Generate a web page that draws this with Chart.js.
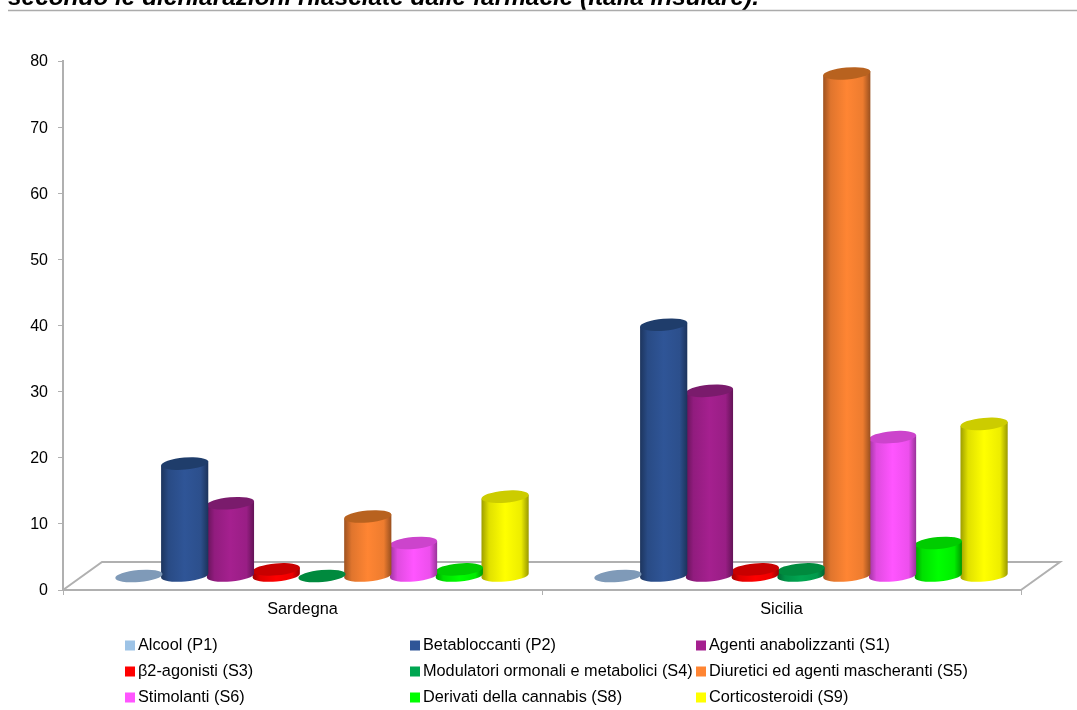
<!DOCTYPE html>
<html lang="it">
<head>
<meta charset="utf-8">
<title>Classi di sostanze per regione</title>
<style>
  html, body { margin: 0; padding: 0; background: #fff; overflow: hidden; }
  canvas { display: block; }
</style>
<script src="https://cdn.jsdelivr.net/npm/chart.js@4"></script>
</head>
<body>
<canvas id="chart" width="1077" height="710"></canvas>
<script>
const headline = "secondo le dichiarazioni rilasciate dalle farmacie (Italia insulare).";
const categories = ["Sardegna", "Sicilia"];
const seriesNames = [
  "Alcool (P1)", "Betabloccanti (P2)", "Agenti anabolizzanti (S1)",
  "β2-agonisti (S3)", "Modulatori ormonali e metabolici (S4)", "Diuretici ed agenti mascheranti (S5)",
  "Stimolanti (S6)", "Derivati della cannabis (S8)", "Corticosteroidi (S9)"
];
const alcool = [0, 0];
const betabloccanti = [17, 38];
const anabolizzanti = [11, 28];
const beta2agonisti = [1, 1];
const modulatori = [0, 1];
const diuretici = [9, 76];
const stimolanti = [5, 21];
const cannabis = [1, 5];
const corticosteroidi = [12, 23];
const seriesValues = [alcool, betabloccanti, anabolizzanti, beta2agonisti, modulatori,
                      diuretici, stimolanti, cannabis, corticosteroidi];
const seriesColors = ["#9DC3E6", "#2F5597", "#A5208F", "#FF0000", "#00A651",
                      "#FF8533", "#FF55FF", "#00FF00", "#FFFF00"];
const topColors = ["#7F9AB8", "#1F3D6B", "#7A1B6C", "#C80000", "#008A3E",
                   "#B8621F", "#CC44CC", "#00CC00", "#CCCC00"];

// Depth of the floor: how far the back edge sits from the front edge.
const DEPTH_X = 39, DEPTH_Y = 28;
const AXIS_GREY = "#B0B0B0";
const FONT = '"Liberation Sans", Arial, sans-serif';

function shade(hex, k) {
  const n = parseInt(hex.slice(1), 16);
  const c = [(n >> 16) & 255, (n >> 8) & 255, n & 255].map(v => Math.round(v * k));
  return `rgb(${c[0]},${c[1]},${c[2]})`;
}

// Draws each bar element as an upright cylinder standing in the middle of the floor's depth.
const cylinders = {
  id: "cylinders",
  beforeDatasetDraw(chart, args) {
    const { ctx } = chart;
    const i = args.index;
    const tilt = -0.085, ry = 6;
    args.meta.data.forEach(bar => {
      const { x, y, base, width } = bar.getProps(["x", "y", "base", "width"]);
      const cx = x + DEPTH_X / 2, rx = width / 2 + 0.8;
      const yTop = y - DEPTH_Y / 2, yBase = base - DEPTH_Y / 2;
      const dx = rx * Math.cos(tilt), dy = rx * Math.sin(tilt);
      ctx.save();
      if (yBase - yTop > 0.5) {
        const grad = ctx.createLinearGradient(cx - dx, 0, cx + dx, 0);
        const col = seriesColors[i];
        grad.addColorStop(0, shade(col, 0.62));
        grad.addColorStop(0.16, shade(col, 0.88));
        grad.addColorStop(0.5, col);
        grad.addColorStop(0.84, shade(col, 0.93));
        grad.addColorStop(1, shade(col, 0.6));
        ctx.beginPath();
        ctx.moveTo(cx - dx, yTop - dy);
        ctx.lineTo(cx - dx, yBase - dy);
        ctx.ellipse(cx, yBase, rx, ry, tilt, Math.PI, 0, true);
        ctx.lineTo(cx + dx, yTop + dy);
        ctx.closePath();
        ctx.fillStyle = grad;
        ctx.fill();
      }
      ctx.beginPath();
      ctx.ellipse(cx, yTop, rx, ry, tilt, 0, Math.PI * 2);
      ctx.fillStyle = topColors[i];
      ctx.fill();
      ctx.restore();
    });
    return false;
  }
};

// Floor outline behind the bars, heading line, and the three-column key.
const decorations = {
  id: "decorations",
  beforeDatasetsDraw(chart) {
    const { ctx, chartArea: a } = chart;
    ctx.save();
    ctx.strokeStyle = AXIS_GREY;
    ctx.lineWidth = 2;
    ctx.beginPath();
    ctx.moveTo(a.left, a.bottom);
    ctx.lineTo(a.left + DEPTH_X, a.bottom - DEPTH_Y);
    ctx.lineTo(a.right + DEPTH_X, a.bottom - DEPTH_Y);
    ctx.lineTo(a.right, a.bottom);
    ctx.stroke();
    ctx.restore();
  },
  afterDraw(chart) {
    const { ctx } = chart;
    ctx.save();
    ctx.fillStyle = "#000";
    ctx.textBaseline = "alphabetic";
    ctx.textAlign = "left";
    ctx.font = `italic bold 24.4px ${FONT}`;
    ctx.fillText(headline, 8, 5);
    ctx.strokeStyle = "#ABABAB";
    ctx.lineWidth = 1.5;
    ctx.beginPath();
    ctx.moveTo(8, 10.5);
    ctx.lineTo(1077, 10.5);
    ctx.stroke();

    const columns = [125, 410, 696], rows = [646, 672, 698];
    ctx.font = `16.3px ${FONT}`;
    ctx.textBaseline = "middle";
    seriesNames.forEach((name, i) => {
      const x = columns[i % 3], y = rows[Math.floor(i / 3)];
      ctx.fillStyle = seriesColors[i];
      ctx.fillRect(x, y - 5.5, 10, 10);
      ctx.fillStyle = "#000";
      ctx.fillText(name, x + 13, y);
    });
    ctx.restore();
  }
};

new Chart(document.getElementById("chart"), {
  type: "bar",
  data: {
    labels: categories,
    datasets: seriesNames.map((label, i) => ({
      label,
      data: seriesValues[i],
      backgroundColor: seriesColors[i],
      categoryPercentage: 0.86,
      barPercentage: 1
    }))
  },
  plugins: [decorations, cylinders],
  options: {
    responsive: false,
    animation: false,
    layout: { padding: { left: 0, top: 61, right: 56, bottom: 90 } },
    plugins: { legend: { display: false }, tooltip: { enabled: false } },
    scales: {
      x: {
        afterFit: s => { s.height = 30; },
        offset: true,
        border: { color: AXIS_GREY, width: 2 },
        grid: { drawOnChartArea: false, color: AXIS_GREY, tickLength: 5, offset: true },
        ticks: { color: "#000", font: { family: FONT, size: 16.3 }, padding: 5 }
      },
      y: {
        afterFit: s => { s.width = 63; },
        min: 0,
        max: 80,
        border: { color: AXIS_GREY, width: 2 },
        grid: { drawOnChartArea: false, color: AXIS_GREY, tickLength: 5 },
        ticks: { stepSize: 10, color: "#000", font: { family: FONT, size: 16 }, padding: 10, labelOffset: 1 }
      }
    }
  }
});
</script>
</body>
</html>
